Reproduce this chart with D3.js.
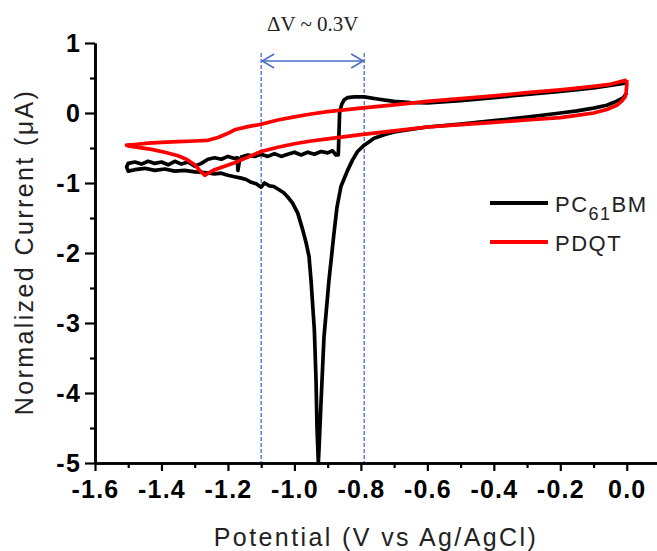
<!DOCTYPE html>
<html>
<head>
<meta charset="utf-8">
<script src="https://cdn.jsdelivr.net/npm/d3@7"></script>
<style>
  body { margin: 0; background: #fff; }
  svg { display: block; }
</style>
</head>
<body>
<div id="chart"></div>
<script>
// PC61BM cyclic voltammogram: [potential (V), current (uA)]
const pcbm = [
  [0.0, 0.29], [-0.01, 0.22], [-0.03, 0.17], [-0.06, 0.11], [-0.10, 0.07], [-0.15, 0.03],
  [-0.20, 0.00], [-0.30, -0.06], [-0.40, -0.11], [-0.50, -0.16], [-0.60, -0.20], [-0.66, -0.24],
  [-0.70, -0.27], [-0.73, -0.31], [-0.76, -0.36], [-0.79, -0.46], [-0.81, -0.55], [-0.825, -0.67],
  [-0.84, -0.82], [-0.86, -1.05], [-0.872, -1.35], [-0.881, -1.72], [-0.896, -2.39], [-0.911, -3.2],
  [-0.920, -4.14], [-0.926, -4.8], [-0.928, -5.0], [-0.932, -4.5], [-0.935, -3.81], [-0.940, -3.1],
  [-0.950, -2.39], [-0.956, -2.05], [-0.965, -1.85], [-0.975, -1.67], [-0.990, -1.43], [-1.005, -1.29],
  [-1.020, -1.20], [-1.032, -1.14], [-1.045, -1.10], [-1.062, -1.05], [-1.075, -1.04], [-1.09, -1.00],
  [-1.10, -1.06], [-1.115, -1.01], [-1.13, -0.99], [-1.145, -0.95], [-1.16, -0.93], [-1.18, -0.91],
  [-1.20, -0.89], [-1.22, -0.86], [-1.24, -0.87], [-1.27, -0.85], [-1.30, -0.84], [-1.33, -0.82],
  [-1.36, -0.83], [-1.39, -0.80], [-1.42, -0.82], [-1.45, -0.79], [-1.48, -0.81], [-1.50, -0.83],
  [-1.505, -0.77], [-1.50, -0.72], [-1.48, -0.70], [-1.46, -0.73], [-1.44, -0.69], [-1.42, -0.72],
  [-1.40, -0.70], [-1.38, -0.74], [-1.36, -0.69], [-1.34, -0.73], [-1.32, -0.70], [-1.30, -0.76],
  [-1.28, -0.72], [-1.26, -0.66], [-1.24, -0.64], [-1.22, -0.66], [-1.20, -0.62], [-1.18, -0.65],
  [-1.172, -0.64], [-1.170, -0.82], [-1.166, -0.70], [-1.16, -0.63], [-1.14, -0.60], [-1.12, -0.62],
  [-1.10, -0.59], [-1.08, -0.62], [-1.06, -0.58], [-1.04, -0.62], [-1.02, -0.59], [-1.00, -0.56],
  [-0.98, -0.60], [-0.96, -0.56], [-0.94, -0.59], [-0.92, -0.55], [-0.90, -0.57], [-0.885, -0.54],
  [-0.875, -0.60], [-0.868, -0.60], [-0.866, -0.30], [-0.864, 0.00], [-0.858, 0.12], [-0.850, 0.19],
  [-0.840, 0.22], [-0.82, 0.23], [-0.79, 0.23], [-0.75, 0.20], [-0.70, 0.165], [-0.65, 0.15],
  [-0.60, 0.145], [-0.50, 0.175], [-0.40, 0.22], [-0.30, 0.265], [-0.20, 0.31], [-0.10, 0.36],
  [0.0, 0.43]
];

// PDQT cyclic voltammogram
const pdqt = [
  [0.0, 0.47], [0.0, 0.40], [-0.002, 0.30], [-0.005, 0.23], [-0.015, 0.17], [-0.03, 0.11],
  [-0.06, 0.05], [-0.10, 0.00], [-0.15, -0.035], [-0.20, -0.065], [-0.30, -0.10], [-0.40, -0.135],
  [-0.50, -0.165], [-0.60, -0.20], [-0.70, -0.255], [-0.80, -0.31], [-0.90, -0.37], [-0.95, -0.40],
  [-1.00, -0.44], [-1.05, -0.49], [-1.10, -0.55], [-1.14, -0.63], [-1.18, -0.71], [-1.21, -0.76],
  [-1.24, -0.81], [-1.27, -0.89], [-1.285, -0.82], [-1.30, -0.74], [-1.325, -0.66], [-1.35, -0.61],
  [-1.39, -0.56], [-1.43, -0.52], [-1.47, -0.49], [-1.50, -0.47], [-1.505, -0.46], [-1.48, -0.45],
  [-1.44, -0.43], [-1.40, -0.42], [-1.35, -0.41], [-1.30, -0.40], [-1.26, -0.39], [-1.23, -0.35],
  [-1.20, -0.29], [-1.18, -0.24], [-1.14, -0.195], [-1.10, -0.16], [-1.05, -0.10], [-1.00, -0.055],
  [-0.95, -0.015], [-0.90, 0.02], [-0.85, 0.045], [-0.80, 0.07], [-0.70, 0.115], [-0.60, 0.165],
  [-0.50, 0.205], [-0.40, 0.245], [-0.30, 0.29], [-0.20, 0.33], [-0.10, 0.38], [-0.05, 0.41],
  [0.0, 0.47]
];

const xMajor = [-1.6, -1.4, -1.2, -1.0, -0.8, -0.6, -0.4, -0.2, 0.0];
const xMinor = [-1.5, -1.3, -1.1, -0.9, -0.7, -0.5, -0.3, -0.1];
const yMajor = [-5, -4, -3, -2, -1, 0, 1];
const yMinor = [-4.5, -3.5, -2.5, -1.5, -0.5, 0.5];

const markers = [-1.1, -0.79];   // dashed guide lines
const seriesNames = ["PC61BM", "PDQT"];
const seriesColors = ["#000000", "#ff0000"];

const W = 657, H = 551;
const svg = d3.select("#chart").append("svg")
  .attr("width", W)
  .attr("height", H);

const x = d3.scaleLinear().domain([-1.6, 0.1]).range([95, 660]);
const y = d3.scaleLinear().domain([-5, 1]).range([463, 43]);

const blue = "#4a6fc4";
const sans = "Arial, 'Liberation Sans', sans-serif";

// dashed guides
svg.selectAll(".guide")
  .data(markers)
  .enter()
  .append("line")
  .attr("x1", d => x(d))
  .attr("x2", d => x(d))
  .attr("y1", 53)
  .attr("y2", y(-5))
  .attr("stroke", blue)
  .attr("stroke-width", 1.3)
  .attr("stroke-dasharray", "4,2");

// double arrow + label
const ay = 61;
const ax1 = x(markers[0]), ax2 = x(markers[1]);
svg.append("line")
  .attr("x1", ax1).attr("x2", ax2).attr("y1", ay).attr("y2", ay)
  .attr("stroke", blue).attr("stroke-width", 1.6);
svg.append("path")
  .attr("d", `M${ax1 + 13},${ay - 7}L${ax1 + 1},${ay}L${ax1 + 13},${ay + 7}M${ax2 - 13},${ay - 7}L${ax2 - 1},${ay}L${ax2 - 13},${ay + 7}`)
  .attr("fill", "none").attr("stroke", blue).attr("stroke-width", 1.6);
svg.append("text")
  .attr("x", (ax1 + ax2) / 2)
  .attr("y", 31)
  .attr("text-anchor", "middle")
  .attr("font-family", "'Times New Roman', 'Liberation Serif', serif")
  .attr("font-size", 21)
  .attr("fill", "#222")
  .text("\u0394V ~ 0.3V");

// curves
const line = d3.line().x(d => x(d[0])).y(d => y(d[1]));
[pcbm, pdqt].forEach((s, i) => {
  svg.append("path")
    .datum(s)
    .attr("d", line)
    .attr("fill", "none")
    .attr("stroke", seriesColors[i])
    .attr("stroke-width", 3.7)
    .attr("stroke-linejoin", "round");
});

// axes
svg.append("g").attr("transform", `translate(0,${y(-5)})`)
  .call(d3.axisBottom(x).tickValues(xMajor).tickSize(8).tickSizeOuter(0).tickPadding(9)
    .tickFormat(d => d.toFixed(1)));
svg.append("g").attr("transform", `translate(0,${y(-5)})`)
  .call(d3.axisBottom(x).tickValues(xMinor).tickSize(5).tickSizeOuter(0).tickFormat(""));

svg.append("g").attr("transform", `translate(${x(-1.6)},0)`)
  .call(d3.axisLeft(y).tickValues(yMajor).tickSize(10).tickSizeOuter(0).tickPadding(4)
    .tickFormat(d => String(d)));
svg.append("g").attr("transform", `translate(${x(-1.6)},0)`)
  .call(d3.axisLeft(y).tickValues(yMinor).tickSize(5).tickSizeOuter(0).tickFormat(""));

svg.selectAll(".domain").attr("stroke", "#000").attr("stroke-width", 2.6);
svg.selectAll(".tick line").attr("stroke", "#000").attr("stroke-width", 2.2);
svg.selectAll(".tick text")
  .attr("font-family", sans)
  .attr("font-weight", "bold")
  .attr("font-size", 25)
  .attr("letter-spacing", 1.2)
  .attr("fill", "#000");

// axis titles
svg.append("text")
  .attr("x", 376)
  .attr("y", 546)
  .attr("text-anchor", "middle")
  .attr("font-family", sans)
  .attr("font-size", 25)
  .attr("letter-spacing", 2.4)
  .attr("fill", "#222")
  .text("Potential (V vs Ag/AgCl)");

svg.append("text")
  .attr("transform", "rotate(-90)")
  .attr("x", -252)
  .attr("y", 33)
  .attr("text-anchor", "middle")
  .attr("font-family", sans)
  .attr("font-size", 25)
  .attr("letter-spacing", 2.4)
  .attr("fill", "#222")
  .text("Normalized Current (\u03bcA)");

// legend
const legY = [203, 242];
svg.selectAll(".legline")
  .data(seriesNames)
  .enter()
  .append("line")
  .attr("x1", 490).attr("x2", 548)
  .attr("y1", (d, i) => legY[i]).attr("y2", (d, i) => legY[i])
  .attr("stroke", (d, i) => seriesColors[i])
  .attr("stroke-width", 4);

const t1 = svg.append("text")
  .attr("x", 555).attr("y", legY[0] + 8.5)
  .attr("font-family", sans).attr("font-size", 22).attr("letter-spacing", 1.5).attr("fill", "#222");
t1.append("tspan").text("PC");
t1.append("tspan").attr("font-size", 18).attr("dy", 8).text("61");
t1.append("tspan").attr("dy", -8).text("BM");

svg.append("text")
  .attr("x", 555).attr("y", legY[1] + 8.5)
  .attr("font-family", sans).attr("font-size", 22).attr("letter-spacing", 1.5).attr("fill", "#222")
  .text(seriesNames[1]);
</script>
</body>
</html>
